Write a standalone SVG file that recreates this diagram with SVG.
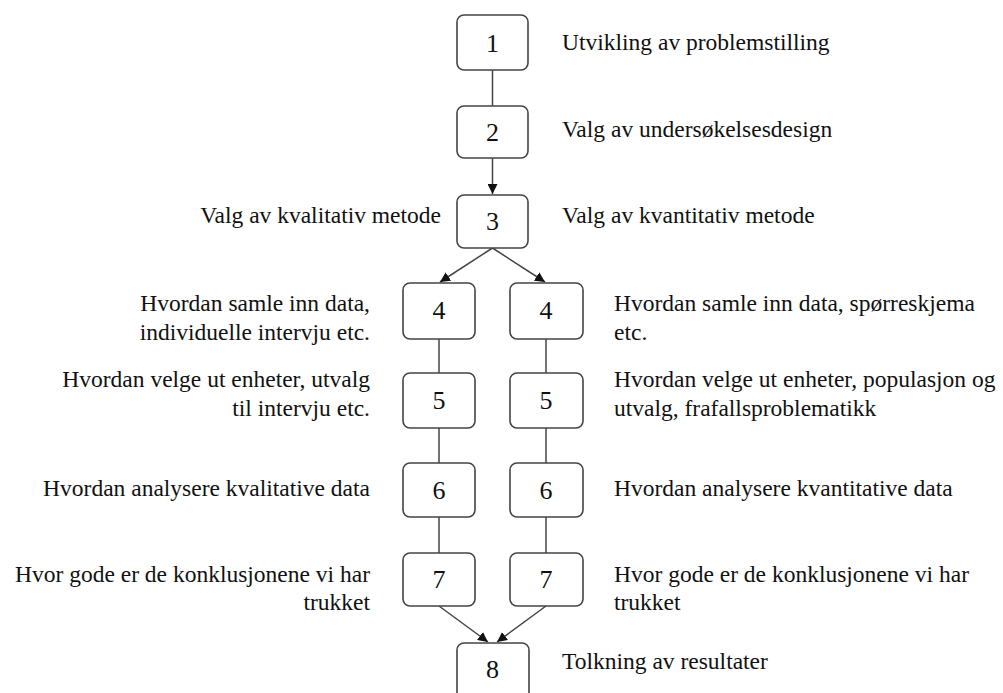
<svg xmlns="http://www.w3.org/2000/svg" width="1003" height="693" viewBox="0 0 1003 693">
<style>
.box{fill:#fff;stroke:#444;stroke-width:1.6}
.num{font-family:"Liberation Serif","Times New Roman",serif;font-size:26px;fill:#111;text-anchor:middle}
.t{font-family:"Liberation Serif","Times New Roman",serif;font-size:23.5px;fill:#111}
.r{text-anchor:end}
.ln{stroke:#444;stroke-width:1.5;fill:none}
</style>
<defs>
<marker id="ah" viewBox="0 0 10 10" refX="10" refY="5" markerWidth="10" markerHeight="10" markerUnits="userSpaceOnUse" orient="auto">
<path d="M0,0 L10,5 L0,10 z" fill="#111"/>
</marker>
</defs>
<rect width="1003" height="693" fill="#fff"/>
<g id="connectors">
<line class="ln" x1="492.5" y1="70" x2="492.5" y2="106"/>
<line class="ln" x1="492.5" y1="158" x2="492.5" y2="194" marker-end="url(#ah)"/>
<line class="ln" x1="492.5" y1="248" x2="440" y2="282" marker-end="url(#ah)"/>
<line class="ln" x1="492.5" y1="248" x2="545" y2="282" marker-end="url(#ah)"/>
<line class="ln" x1="439" y1="339" x2="439" y2="373"/>
<line class="ln" x1="546" y1="339" x2="546" y2="373"/>
<line class="ln" x1="439" y1="428" x2="439" y2="463"/>
<line class="ln" x1="546" y1="428" x2="546" y2="463"/>
<line class="ln" x1="439" y1="517" x2="439" y2="553"/>
<line class="ln" x1="546" y1="517" x2="546" y2="553"/>
<line class="ln" x1="439" y1="606" x2="488" y2="642" marker-end="url(#ah)"/>
<line class="ln" x1="546" y1="606" x2="497" y2="642" marker-end="url(#ah)"/>
</g>
<g id="n1"><rect class="box" x="457" y="15" width="71" height="55" rx="7"/><text class="num" x="492.5" y="52">1</text><text class="t" x="562" y="50">Utvikling av problemstilling</text></g>
<g id="n2"><rect class="box" x="457" y="106" width="71" height="52" rx="7"/><text class="num" x="492.5" y="141">2</text><text class="t" x="562" y="137">Valg av undersøkelsesdesign</text></g>
<g id="n3"><rect class="box" x="457" y="195" width="71" height="53" rx="7"/><text class="num" x="492.5" y="230">3</text><text class="t r" x="441" y="223">Valg av kvalitativ metode</text><text class="t" x="562" y="223">Valg av kvantitativ metode</text></g>
<g id="n4l"><rect class="box" x="403" y="283" width="72" height="56" rx="7"/><text class="num" x="439" y="319">4</text><text class="t r" x="370" y="311">Hvordan samle inn data,</text><text class="t r" x="370" y="340">individuelle intervju etc.</text></g>
<g id="n4r"><rect class="box" x="510" y="283" width="73" height="56" rx="7"/><text class="num" x="546" y="319">4</text><text class="t" x="614" y="311">Hvordan samle inn data, spørreskjema</text><text class="t" x="614" y="340">etc.</text></g>
<g id="n5l"><rect class="box" x="403" y="373" width="72" height="55" rx="7"/><text class="num" x="439" y="409">5</text><text class="t r" x="370" y="387">Hvordan velge ut enheter, utvalg</text><text class="t r" x="370" y="416">til intervju etc.</text></g>
<g id="n5r"><rect class="box" x="510" y="373" width="73" height="55" rx="7"/><text class="num" x="546" y="409">5</text><text class="t" x="614" y="387">Hvordan velge ut enheter, populasjon og</text><text class="t" x="614" y="416">utvalg, frafallsproblematikk</text></g>
<g id="n6l"><rect class="box" x="403" y="463" width="72" height="54" rx="7"/><text class="num" x="439" y="499">6</text><text class="t r" x="370" y="496">Hvordan analysere kvalitative data</text></g>
<g id="n6r"><rect class="box" x="510" y="463" width="73" height="54" rx="7"/><text class="num" x="546" y="499">6</text><text class="t" x="614" y="496">Hvordan analysere kvantitative data</text></g>
<g id="n7l"><rect class="box" x="403" y="553" width="72" height="53" rx="7"/><text class="num" x="439" y="588">7</text><text class="t r" x="370" y="582">Hvor gode er de konklusjonene vi har</text><text class="t r" x="370" y="610">trukket</text></g>
<g id="n7r"><rect class="box" x="510" y="553" width="73" height="53" rx="7"/><text class="num" x="546" y="588">7</text><text class="t" x="614" y="582">Hvor gode er de konklusjonene vi har</text><text class="t" x="614" y="610">trukket</text></g>
<g id="n8"><rect class="box" x="457" y="643" width="72" height="60" rx="7"/><text class="num" x="492.5" y="678">8</text><text class="t" x="562" y="669">Tolkning av resultater</text></g>
</svg>
